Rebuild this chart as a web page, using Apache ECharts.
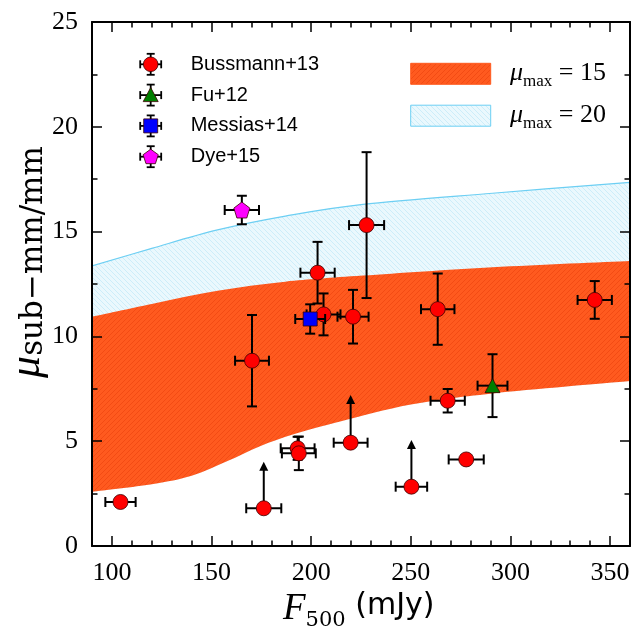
<!DOCTYPE html>
<html><head><meta charset="utf-8">
<script src="https://cdn.jsdelivr.net/npm/echarts@6/dist/echarts.min.js"></script>
<style>html,body{margin:0;padding:0;background:#fff}#c{width:643px;height:629px}</style>
</head><body><div id="c"></div>
<script>
// ---- tick labels ----
const xTicks = [100, 150, 200, 250, 300, 350];
const yTicks = [0, 5, 10, 15, 20, 25];

// ---- Bussmann+13 ----
const bussX    = [104.3, 176.2, 193.2, 193.8, 219.8, 250.3, 263.5, 268.5, 277.8, 342.3, 227.8, 203.2, 206.2, 221.0, 170.3];
const bussY    = [2.1, 1.8, 4.66, 4.42, 4.93, 2.83, 11.3, 6.93, 4.13, 11.74, 15.31, 13.04, 11.05, 10.94, 8.84];
const bussXErr = [7.6, 8.8, 8.5, 8.5, 8.5, 7.9, 8.4, 8.6, 8.8, 8.6, 8.8, 8.6, 8.5, 7.8, 8.5];
const bussYErr = [0, 0, 0.55, 0.8, 0, 0, 1.7, 0.56, 0, 0.9, 3.48, 1.47, 1.0, 1.28, 2.18];
const bussLimitTip = [0, 4.02, 0, 0, 7.2, 5.06, 0, 0, 0, 0, 0, 0, 0, 0, 0];

// ---- Fu+12 ----
const fuX = [291.0], fuY = [7.65], fuXErr = [7.5], fuYErr = [1.5];
// ---- Messias+14 ----
const messX = [199.5], messY = [10.83], messXErr = [7.5], messYErr = [0.7];
// ---- Dye+15 ----
const dyeX = [165.2], dyeY = [16.03], dyeXErr = [8.6], dyeYErr = [0.68];

// ---- model bands ----
const orangeTopX = [90, 120, 153, 187, 226, 291, 360];
const orangeTopY = [10.94, 11.55, 12.18, 12.61, 12.9, 13.3, 13.6];
const orangeLowX = [90, 120, 140, 158, 174, 192, 215, 250, 291, 360];
const orangeLowY = [2.59, 2.95, 3.35, 4.05, 4.75, 5.35, 5.95, 6.75, 7.28, 7.87];
const blueTopX = [90, 120, 153, 187, 226, 291, 360];
const blueTopY = [13.36, 14.2, 15.08, 15.74, 16.3, 16.83, 17.35];

const legendNames = ['Bussmann+13', 'Fu+12', 'Messias+14', 'Dye+15'];

function hatch(bg, line, dir) {
  const c = document.createElement('canvas');
  c.width = 5; c.height = 5;
  const g = c.getContext('2d');
  g.fillStyle = bg; g.fillRect(0, 0, 5, 5);
  g.strokeStyle = line; g.lineWidth = 0.8;
  g.beginPath();
  if (dir > 0) {
    g.moveTo(0, 5); g.lineTo(5, 0);
    g.moveTo(-1, 1); g.lineTo(1, -1);
    g.moveTo(4, 6); g.lineTo(6, 4);
  } else {
    g.moveTo(0, 0); g.lineTo(5, 5);
    g.moveTo(-1, 4); g.lineTo(1, 6);
    g.moveTo(4, -1); g.lineTo(6, 1);
  }
  g.stroke();
  return { image: c, repeat: 'repeat' };
}
const orangeFill = hatch('#ff5a1f', '#f04812', 1);
const blueFill = hatch('#eaf8fd', '#c4eaf7', -1);

function curveSeg(pts, start) {
  let d = start ? ('M' + pts[0][0] + ',' + pts[0][1]) : ('L' + pts[0][0] + ',' + pts[0][1]);
  for (let i = 0; i < pts.length - 1; i++) {
    const p0 = pts[Math.max(0, i - 1)], p1 = pts[i], p2 = pts[i + 1], p3 = pts[Math.min(pts.length - 1, i + 2)];
    const c1 = [p1[0] + (p2[0] - p0[0]) / 6, p1[1] + (p2[1] - p0[1]) / 6];
    const c2 = [p2[0] - (p3[0] - p1[0]) / 6, p2[1] - (p3[1] - p1[1]) / 6];
    d += 'C' + c1[0] + ',' + c1[1] + ' ' + c2[0] + ',' + c2[1] + ' ' + p2[0] + ',' + p2[1];
  }
  return d;
}
function bandRender(upX, upY, lowX, lowY, fill, edge) {
  return function (params, api) {
    const up = upX.map((x, i) => api.coord([x, upY[i]]));
    const low = lowX.map((x, i) => api.coord([x, lowY[i]])).reverse();
    const d = curveSeg(up, true) + curveSeg(low, false) + 'Z';
    const ch = [{ type: 'path', shape: { pathData: d }, style: { fill: fill, stroke: null } }];
    if (edge) {
      ch.push({ type: 'path', shape: { pathData: curveSeg(up, true) }, style: { fill: null, stroke: edge, lineWidth: 1.2 } });
    }
    return { type: 'group', children: ch };
  };
}

function errRender(params, api) {
  const x = api.value(0), y = api.value(1), xe = api.value(2), ye = api.value(3), tip = api.value(4);
  const c = api.coord([x, y]);
  const l = api.coord([x - xe, y]), r = api.coord([x + xe, y]);
  const st = { stroke: '#000', lineWidth: 2 };
  const cap = 5;
  const ch = [];
  ch.push({ type: 'line', shape: { x1: l[0], y1: c[1], x2: r[0], y2: c[1] }, style: st });
  ch.push({ type: 'line', shape: { x1: l[0], y1: c[1] - cap, x2: l[0], y2: c[1] + cap }, style: st });
  ch.push({ type: 'line', shape: { x1: r[0], y1: c[1] - cap, x2: r[0], y2: c[1] + cap }, style: st });
  if (ye > 0) {
    const t = api.coord([x, y + ye]), b = api.coord([x, y - ye]);
    ch.push({ type: 'line', shape: { x1: c[0], y1: t[1], x2: c[0], y2: b[1] }, style: st });
    ch.push({ type: 'line', shape: { x1: c[0] - cap, y1: t[1], x2: c[0] + cap, y2: t[1] }, style: st });
    ch.push({ type: 'line', shape: { x1: c[0] - cap, y1: b[1], x2: c[0] + cap, y2: b[1] }, style: st });
  }
  if (tip > y) {
    const t = api.coord([x, tip]);
    ch.push({ type: 'line', shape: { x1: c[0], y1: c[1], x2: c[0], y2: t[1] + 8 }, style: st });
    ch.push({ type: 'polygon', shape: { points: [[c[0] - 4.5, t[1] + 9], [c[0] + 4.5, t[1] + 9], [c[0], t[1]]] }, style: { fill: '#000' } });
  }
  return { type: 'group', children: ch };
}

function errData(xs, ys, xe, ye, tips) {
  return xs.map((x, i) => [x, ys[i], xe[i], ye[i], tips ? tips[i] : 0]);
}
function ptData(xs, ys) { return xs.map((x, i) => [x, ys[i]]); }

const pentagon = 'path://M0,-1 L0.951,-0.309 L0.588,0.809 L-0.588,0.809 L-0.951,-0.309 Z';
const markerStyles = [
  { symbol: 'circle', size: 15, color: '#ff0000' },
  { symbol: 'triangle', size: [15, 14], color: '#007f00' },
  { symbol: 'rect', size: 14, color: '#0000ff' },
  { symbol: pentagon, size: 16, color: '#ff00ff' }
];
const datasets = [
  [bussX, bussY, bussXErr, bussYErr, bussLimitTip],
  [fuX, fuY, fuXErr, fuYErr, null],
  [messX, messY, messXErr, messYErr, null],
  [dyeX, dyeY, dyeXErr, dyeYErr, null]
];

const serif = 'Liberation Serif';
const sans = 'Liberation Sans';

const series = [
  { type: 'custom', coordinateSystem: 'cartesian2d', clip: true, z: 1, silent: true,
    renderItem: bandRender(blueTopX, blueTopY, orangeLowX, orangeLowY, blueFill, '#6dcff3'), data: [[90, 0]] },
  { type: 'custom', coordinateSystem: 'cartesian2d', clip: true, z: 1, silent: true,
    renderItem: bandRender(orangeTopX, orangeTopY, orangeLowX, orangeLowY, orangeFill, null), data: [[90, 0]] }
];
datasets.forEach((d, k) => {
  series.push({ type: 'custom', name: legendNames[k] + ' err', coordinateSystem: 'cartesian2d', z: 3 + k * 2,
    renderItem: errRender, encode: { x: 0, y: 1 }, data: errData(d[0], d[1], d[2], d[3], d[4]) });
  series.push({ type: 'scatter', name: legendNames[k], z: 4 + k * 2, symbol: markerStyles[k].symbol,
    symbolSize: markerStyles[k].size,
    itemStyle: { color: markerStyles[k].color, borderColor: '#3a0000', borderWidth: 0.8, opacity: 1 },
    data: ptData(d[0], d[1]) });
});

// ---- legend (graphic) ----
const graphics = [];
const legX = 150.7, legY0 = 64.3, legDy = 30.8;
legendNames.forEach((nm, k) => {
  const cy = legY0 + k * legDy;
  const st = { stroke: '#000', lineWidth: 1.8 };
  graphics.push({ type: 'line', shape: { x1: legX - 10.5, y1: cy, x2: legX + 10.5, y2: cy }, style: st, z: 50 });
  graphics.push({ type: 'line', shape: { x1: legX - 10.5, y1: cy - 4, x2: legX - 10.5, y2: cy + 4 }, style: st, z: 50 });
  graphics.push({ type: 'line', shape: { x1: legX + 10.5, y1: cy - 4, x2: legX + 10.5, y2: cy + 4 }, style: st, z: 50 });
  graphics.push({ type: 'line', shape: { x1: legX, y1: cy - 10.5, x2: legX, y2: cy + 10.5 }, style: st, z: 50 });
  graphics.push({ type: 'line', shape: { x1: legX - 4, y1: cy - 10.5, x2: legX + 4, y2: cy - 10.5 }, style: st, z: 50 });
  graphics.push({ type: 'line', shape: { x1: legX - 4, y1: cy + 10.5, x2: legX + 4, y2: cy + 10.5 }, style: st, z: 50 });
  const fill = markerStyles[k].color;
  const mstyle = { fill: fill, stroke: '#3a0000', lineWidth: 0.8 };
  if (k === 0) graphics.push({ type: 'circle', shape: { cx: legX, cy: cy, r: 7.3 }, style: mstyle, z: 51 });
  if (k === 1) graphics.push({ type: 'polygon', shape: { points: [[legX, cy - 7.5], [legX + 7.5, cy + 6.5], [legX - 7.5, cy + 6.5]] }, style: mstyle, z: 51 });
  if (k === 2) graphics.push({ type: 'rect', shape: { x: legX - 7, y: cy - 7, width: 14, height: 14 }, style: mstyle, z: 51 });
  if (k === 3) {
    const P = [[0, -1], [0.951, -0.309], [0.588, 0.809], [-0.588, 0.809], [-0.951, -0.309]].map(p => [legX + p[0] * 8, cy + 0.5 + p[1] * 8]);
    graphics.push({ type: 'polygon', shape: { points: P }, style: mstyle, z: 51 });
  }
  graphics.push({ type: 'text', x: 190.7, y: cy, style: { text: nm, fontFamily: sans, fontSize: 20, fill: '#000', align: 'left', verticalAlign: 'middle' }, z: 51 });
});
const bandLegend = [
  { y: 63.3, fill: orangeFill, stroke: '#ff5a1f', label: '15' },
  { y: 105.2, fill: blueFill, stroke: '#6dcff3', label: '20' }
];
const muRich = {
  m: { fontFamily: serif, fontStyle: 'italic', fontSize: 26, lineHeight: 30, verticalAlign: 'top' },
  s: { fontFamily: serif, fontSize: 17, lineHeight: 17, verticalAlign: 'bottom', padding: [17, 0, 0, 0] },
  e: { fontFamily: serif, fontSize: 26, lineHeight: 30, verticalAlign: 'top' }
};
bandLegend.forEach(b => {
  graphics.push({ type: 'rect', shape: { x: 410.7, y: b.y, width: 80, height: 21 }, style: { fill: b.fill, stroke: b.stroke, lineWidth: 1 }, z: 50 });
  graphics.push({ type: 'text', x: 510, y: b.y + 12, style: { text: '{m|μ}{s|max}{e| = ' + b.label + '}', rich: muRich, fill: '#000', align: 'left', verticalAlign: 'middle' }, z: 51 });
});
// axis titles
graphics.push({ type: 'text', x: 283, y: 611, z: 51, style: {
  text: '{f|F}{s|500}{u| (mJy)}', align: 'left', verticalAlign: 'middle', fill: '#000',
  rich: {
    f: { fontFamily: serif, fontStyle: 'italic', fontSize: 37, lineHeight: 38, verticalAlign: 'top' },
    s: { fontFamily: 'DejaVu Serif', fontSize: 21, lineHeight: 21, verticalAlign: 'bottom', padding: [21, 0, 0, 0] },
    u: { fontFamily: 'DejaVu Sans', fontSize: 30, lineHeight: 40, verticalAlign: 'top' }
  } } });
graphics.push({ type: 'text', x: 27, y: 262, rotation: Math.PI / 2, z: 51, style: {
  text: '{m|μ}{s|sub−mm/mm}', align: 'center', verticalAlign: 'middle', fill: '#000',
  rich: {
    m: { fontFamily: serif, fontStyle: 'italic', fontSize: 44, lineHeight: 44, verticalAlign: 'top' },
    s: { fontFamily: 'DejaVu Serif', fontSize: 31, lineHeight: 31, verticalAlign: 'bottom', padding: [22, 0, 0, 0] }
  } } });

const axLine = { show: true, lineStyle: { color: '#000', width: 2 } };
const tickStyle = { color: '#000', width: 1.5 };
const lab = { fontFamily: serif, fontSize: 26, color: '#000' };

const option = {
  animation: false,
  backgroundColor: '#fff',
  grid: { left: 92, right: 13, top: 22, bottom: 83, containLabel: false },
  xAxis: [
    { type: 'value', min: 90, max: 360, position: 'bottom', z: 20, axisLine: axLine,
      axisTick: { show: true, inside: true, length: 10, customValues: xTicks, lineStyle: tickStyle },
      axisLabel: Object.assign({ customValues: xTicks, margin: 14 }, lab), splitLine: { show: false } },
    { type: 'value', min: 90, max: 360, interval: 10, position: 'bottom', z: 20, axisLine: { show: false },
      axisTick: { show: true, inside: true, length: 5.5, lineStyle: tickStyle }, axisLabel: { show: false }, splitLine: { show: false } },
    { type: 'value', min: 90, max: 360, position: 'top', z: 20, axisLine: axLine,
      axisTick: { show: true, inside: true, length: 10, customValues: xTicks, lineStyle: tickStyle },
      axisLabel: { show: false }, splitLine: { show: false } },
    { type: 'value', min: 90, max: 360, interval: 10, position: 'top', z: 20, axisLine: { show: false },
      axisTick: { show: true, inside: true, length: 5.5, lineStyle: tickStyle }, axisLabel: { show: false }, splitLine: { show: false } }
  ],
  yAxis: [
    { type: 'value', min: 0, max: 25, interval: 5, position: 'left', z: 20, axisLine: axLine,
      axisTick: { show: true, inside: true, length: 10, lineStyle: tickStyle },
      minorTick: { show: true, splitNumber: 2, length: 5.5, lineStyle: tickStyle },
      axisLabel: Object.assign({ customValues: yTicks, margin: 14 }, lab), splitLine: { show: false } },
    { type: 'value', min: 0, max: 25, interval: 5, position: 'right', z: 20, axisLine: axLine,
      axisTick: { show: true, inside: true, length: 10, lineStyle: tickStyle },
      minorTick: { show: true, splitNumber: 2, length: 5.5, lineStyle: tickStyle },
      axisLabel: { show: false }, splitLine: { show: false } }
  ],
  series: series,
  graphic: graphics
};
const chart = echarts.init(document.getElementById('c'), null, { renderer: 'canvas' });
chart.setOption(option);
</script>
</body></html>
